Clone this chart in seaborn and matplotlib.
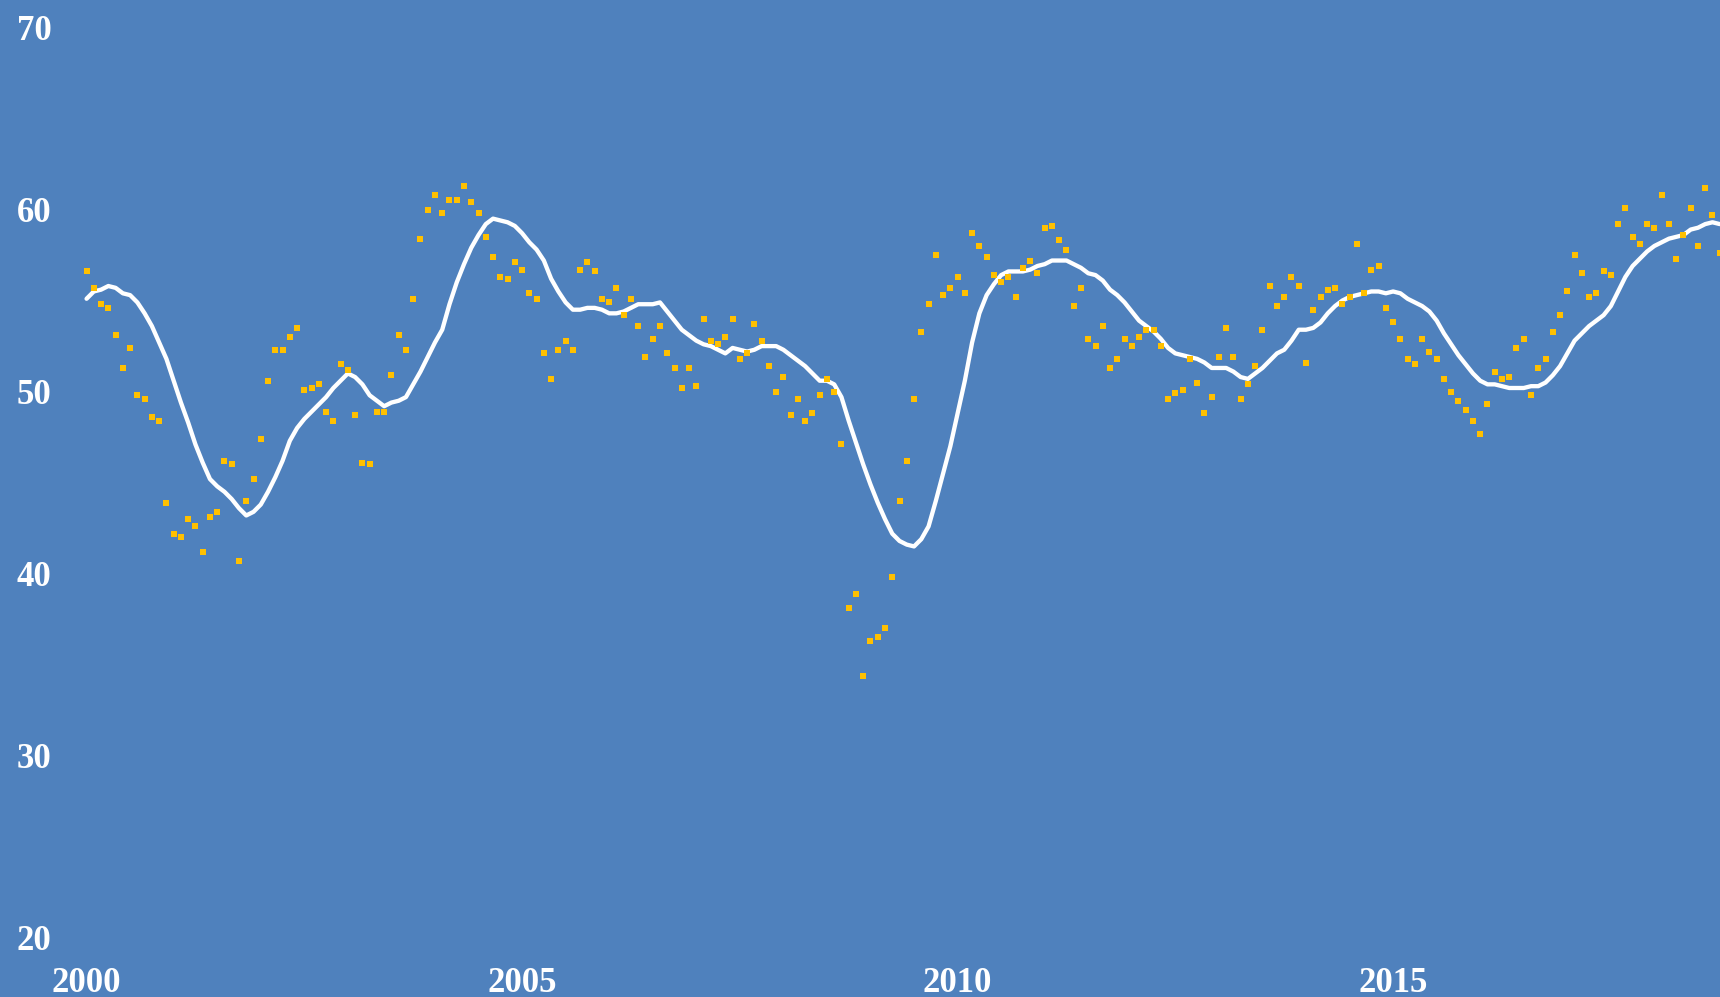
import numpy as np
import pandas as pd
import matplotlib
matplotlib.use("Agg")
import matplotlib.pyplot as plt
import seaborn as sns

# Monthly readings, starting January 2000
anio_inicio = 2000
puntos = [
    56.6, 55.7, 54.8, 54.6, 53.1, 51.3, 52.4, 49.8, 49.6, 48.6, 48.4, 43.9,  # 2000
    42.2, 42.0, 43.0, 42.6, 41.2, 43.1, 43.4, 46.2, 46.0, 40.7, 44.0, 45.2,  # 2001
    47.4, 50.6, 52.3, 52.3, 53.0, 53.5, 50.1, 50.2, 50.4, 48.9, 48.4, 51.5,  # 2002
    51.2, 48.7, 46.1, 46.0, 48.9, 48.9, 50.9, 53.1, 52.3, 55.1, 58.4, 60.0,  # 2003
    60.8, 59.8, 60.5, 60.5, 61.3, 60.4, 59.8, 58.5, 57.4, 56.3, 56.2, 57.1,  # 2004
    56.7, 55.4, 55.1, 52.1, 50.7, 52.3, 52.8, 52.3, 56.7, 57.1, 56.6, 55.1,  # 2005
    54.9, 55.7, 54.2, 55.1, 53.6, 51.9, 52.9, 53.6, 52.1, 51.3, 50.2, 51.3,  # 2006
    50.3, 54.0, 52.8, 52.6, 53.0, 54.0, 51.8, 52.1, 53.7, 52.8, 51.4, 50.0,  # 2007
    50.8, 48.7, 49.6, 48.4, 48.8, 49.8, 50.7, 50.0, 47.1, 38.1, 38.9, 34.4,  # 2008
    36.3, 36.5, 37.0, 39.8, 44.0, 46.2, 49.6, 53.3, 54.8, 57.5, 55.3, 55.7,  # 2009
    56.3, 55.4, 58.7, 58.0, 57.4, 56.4, 56.0, 56.3, 55.2, 56.8, 57.2, 56.5,  # 2010
    59.0, 59.1, 58.3, 57.8, 54.7, 55.7, 52.9, 52.5, 53.6, 51.3, 51.8, 52.9,  # 2011
    52.5, 53.0, 53.4, 53.4, 52.5, 49.6, 49.9, 50.1, 51.8, 50.5, 48.8, 49.7,  # 2012
    51.9, 53.5, 51.9, 49.6, 50.4, 51.4, 53.4, 55.8, 54.7, 55.2, 56.3, 55.8,  # 2013
    51.6, 54.5, 55.2, 55.6, 55.7, 54.8, 55.2, 58.1, 55.4, 56.7, 56.9, 54.6,  # 2014
    53.8, 52.9, 51.8, 51.5, 52.9, 52.2, 51.8, 50.7, 50.0, 49.5, 49.0, 48.4,  # 2015
    47.7, 49.3, 51.1, 50.7, 50.8, 52.4, 52.9, 49.8, 51.3, 51.8, 53.3, 54.2,  # 2016
    55.5, 57.5, 56.5, 55.2, 55.4, 56.6, 56.4, 59.2, 60.1, 58.5, 58.1, 59.2,  # 2017
    59.0, 60.8, 59.2, 57.3, 58.6, 60.1, 58.0, 61.2, 59.7, 57.6,              # 2018
]

# Smoothed trend (white line), same months
tendencia = [
    55.1, 55.5, 55.6, 55.8, 55.7, 55.4, 55.3, 54.9, 54.3, 53.6, 52.7, 51.8,
    50.6, 49.4, 48.3, 47.1, 46.1, 45.2, 44.8, 44.5, 44.1, 43.6, 43.2, 43.4,
    43.8, 44.5, 45.3, 46.2, 47.3, 48.0, 48.5, 48.9, 49.3, 49.7, 50.2, 50.6,
    51.0, 50.8, 50.4, 49.8, 49.5, 49.2, 49.4, 49.5, 49.7, 50.4, 51.1, 51.9,
    52.7, 53.4, 54.8, 56.0, 57.0, 57.9, 58.6, 59.2, 59.5, 59.4, 59.3, 59.1,
    58.7, 58.2, 57.8, 57.2, 56.2, 55.5, 54.9, 54.5, 54.5, 54.6, 54.6, 54.5,
    54.3, 54.3, 54.4, 54.6, 54.8, 54.8, 54.8, 54.9, 54.4, 53.9, 53.4, 53.1,
    52.8, 52.6, 52.5, 52.3, 52.1, 52.4, 52.3, 52.2, 52.3, 52.5, 52.5, 52.5,
    52.3, 52.0, 51.7, 51.4, 51.0, 50.6, 50.6, 50.4, 49.7, 48.4, 47.2, 46.0,
    44.9, 43.9, 43.0, 42.2, 41.8, 41.6, 41.5, 41.9, 42.6, 44.0, 45.5, 47.0,
    48.8, 50.6, 52.7, 54.3, 55.3, 55.9, 56.4, 56.6, 56.6, 56.6, 56.7, 56.9,
    57.0, 57.2, 57.2, 57.2, 57.0, 56.8, 56.5, 56.4, 56.1, 55.6, 55.3, 54.9,
    54.4, 53.9, 53.6, 53.3, 52.9, 52.4, 52.1, 52.0, 51.9, 51.8, 51.6, 51.3,
    51.3, 51.3, 51.1, 50.8, 50.7, 51.0, 51.3, 51.7, 52.1, 52.3, 52.8, 53.4,
    53.4, 53.5, 53.8, 54.3, 54.7, 55.0, 55.2, 55.3, 55.4, 55.5, 55.5, 55.4,
    55.5, 55.4, 55.1, 54.9, 54.7, 54.4, 53.9, 53.2, 52.6, 52.0, 51.5, 51.0,
    50.6, 50.4, 50.4, 50.3, 50.2, 50.2, 50.2, 50.3, 50.3, 50.5, 50.9, 51.4,
    52.1, 52.8, 53.2, 53.6, 53.9, 54.2, 54.7, 55.5, 56.3, 56.9, 57.3, 57.7,
    58.0, 58.2, 58.4, 58.5, 58.6, 58.9, 59.0, 59.2, 59.3, 59.2,
]

ticks_x = [2000, 2005, 2010, 2015]
ticks_y = [20, 30, 40, 50, 60, 70]

azul = "#4F81BD"
naranja = "#FFC000"

df = pd.DataFrame({
    "fecha": anio_inicio + np.arange(len(puntos)) / 12,
    "valor": puntos,
    "tendencia": tendencia,
})

sns.set_style("white")
plt.rcParams["font.family"] = ["Liberation Serif", "DejaVu Serif"]

fig = plt.figure(figsize=(17.2, 9.97), dpi=100, facecolor=azul)
ax = fig.add_axes([0.0402, 0.0592, 0.9598, 0.9133])
ax.set_facecolor(azul)

sns.lineplot(data=df, x="fecha", y="tendencia", color="white", linewidth=3.1, ax=ax, zorder=2)
sns.scatterplot(data=df, x="fecha", y="valor", marker="s", s=19, color=naranja,
                linewidth=0, ax=ax, zorder=3)

ax.set_xlim(1999.8, 2018.753)
ax.set_ylim(20, 70)
ax.set_xticks(ticks_x)
ax.set_yticks(ticks_y)
ax.set_xticklabels([str(t) for t in ticks_x])
ax.set_yticklabels([str(t) for t in ticks_y], ha="left")
ax.tick_params(axis="x", length=0, pad=21, labelsize=25, labelcolor="white")
ax.tick_params(axis="y", length=0, pad=37.6, labelsize=25, labelcolor="white")
for lab in ax.get_xticklabels() + ax.get_yticklabels():
    lab.set_fontweight("bold")

ax.set_xlabel("")
ax.set_ylabel("")
sns.despine(ax=ax, left=True, bottom=True)
ax.grid(False)

fig.savefig("out.png", dpi=100, facecolor=azul)
